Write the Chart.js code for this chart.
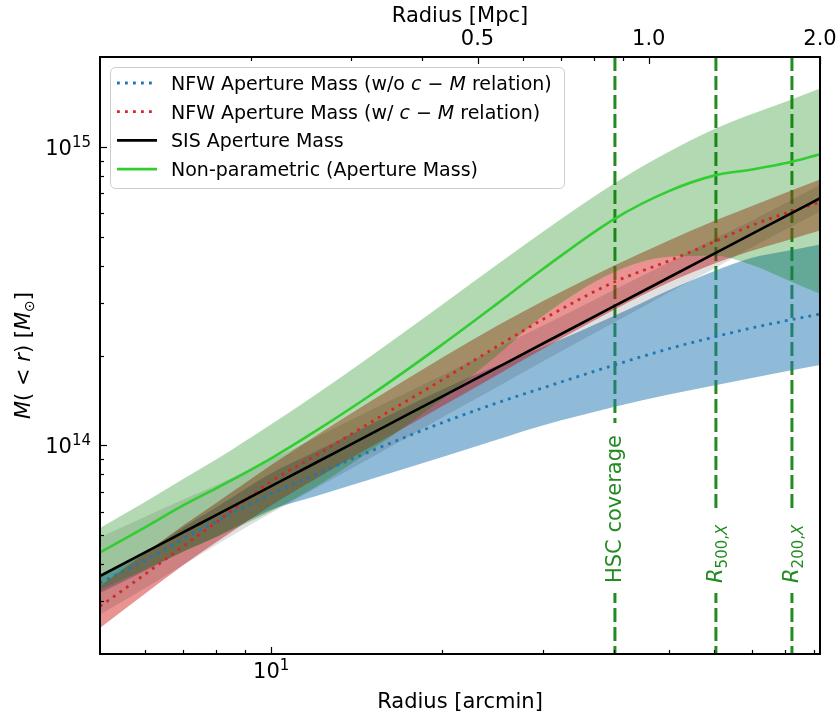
<!DOCTYPE html>
<html>
<head>
<meta charset="utf-8">
<script src="https://cdn.jsdelivr.net/npm/chart.js@4.4.1/dist/chart.umd.min.js"></script>
<style>
  html, body { margin: 0; padding: 0; background: #fff; }
  canvas { display: block; }
</style>
</head>
<body>
<canvas id="chart" width="840" height="717"></canvas>
<script>
// radius grid the curves were read at (arcmin)
const radiusArcmin = [5, 6, 7, 8, 10, 12, 15, 20, 25, 30, 40, 50, 60, 70, 80, 92.2];

// SIS aperture mass (black) and its band
const sisMass = [3.65e13, 4.38e13, 5.11e13, 5.84e13, 7.3e13, 8.76e13, 1.095e14, 1.46e14, 1.825e14, 2.19e14, 2.92e14, 3.65e14, 4.38e14, 5.11e14, 5.84e14, 6.73e14];
const sisUpper = [4.92e13, 5.77e13, 6.58e13, 7.35e13, 8.98e13, 1.065e14, 1.316e14, 1.716e14, 2.119e14, 2.514e14, 3.314e14, 4.095e14, 4.914e14, 5.667e14, 6.477e14, 7.464e14];
const sisLower = [2.71e13, 3.32e13, 3.97e13, 4.64e13, 5.93e13, 7.2e13, 9.11e13, 1.243e14, 1.572e14, 1.908e14, 2.573e14, 3.253e14, 3.904e14, 4.608e14, 5.266e14, 6.069e14];

// NFW without c-M relation (blue)
const nfwMass = [3.46e13, 4.12e13, 4.86e13, 5.56e13, 6.88e13, 8.01e13, 9.58e13, 1.192e14, 1.389e14, 1.557e14, 1.855e14, 2.107e14, 2.306e14, 2.474e14, 2.61e14, 2.754e14];
const nfwUpper = [3.64e13, 4.38e13, 5.31e13, 6.19e13, 8.06e13, 9.55e13, 1.18e14, 1.54e14, 1.85e14, 2.13e14, 2.71e14, 3.31e14, 3.83e14, 4.25e14, 4.47e14, 4.71e14];
const nfwLower = [3.2e13, 3.8e13, 4.41e13, 4.93e13, 6.08e13, 6.77e13, 7.72e13, 9.14e13, 1.047e14, 1.166e14, 1.345e14, 1.481e14, 1.587e14, 1.682e14, 1.768e14, 1.859e14];

// NFW with c-M relation (red)
const nfwCmMass = [2.89e13, 3.7e13, 4.59e13, 5.52e13, 7.57e13, 9.27e13, 1.198e14, 1.66e14, 2.15e14, 2.64e14, 3.52e14, 4.15e14, 4.8e14, 5.46e14, 5.98e14, 6.52e14];
const nfwCmUpper = [3.38e13, 4.35e13, 5.39e13, 6.41e13, 8.59e13, 1.08e14, 1.412e14, 1.971e14, 2.522e14, 3.042e14, 4.0e14, 4.86e14, 5.64e14, 6.34e14, 7.01e14, 7.77e14];
const nfwCmLower = [2.445e13, 3.184e13, 3.965e13, 4.734e13, 6.29e13, 7.75e13, 9.91e13, 1.354e14, 1.724e14, 2.102e14, 2.84e14, 3.51e14, 4.06e14, 4.49e14, 4.84e14, 5.25e14];

// non-parametric aperture mass (green)
const npMass = [4.38e13, 5.31e13, 6.29e13, 7.18e13, 9.05e13, 1.12e14, 1.48e14, 2.18e14, 2.99e14, 3.89e14, 5.72e14, 7.11e14, 8.01e14, 8.4e14, 8.81e14, 9.44e14];
const npUpper = [5.29e13, 6.46e13, 7.72e13, 8.97e13, 1.177e14, 1.484e14, 1.998e14, 2.963e14, 4.04e14, 5.19e14, 7.53e14, 9.63e14, 1.146e15, 1.289e15, 1.414e15, 1.57e15];
const npLower = [3.28e13, 3.84e13, 4.4e13, 4.93e13, 6.02e13, 7.28e13, 9.64e13, 1.429e14, 2.007e14, 2.705e14, 3.8e14, 4.28e14, 4.32e14, 4.02e14, 3.61e14, 3.22e14];

// vertical markers (arcmin)
const markerRadii = [40.2, 60.5, 82.3];

// axis ranges and ticks
const ARCMIN_PER_MPC = 46.1;
const X_MIN = 5, X_MAX = 92.2;
const Y_MIN = 2e13, Y_MAX = 2e15;
const arcminMajorTicks = [10];
const arcminMinorTicks = [6, 7, 8, 9, 20, 30, 40, 50, 60, 70, 80, 90];
const mpcMajorTicks = [0.5, 1.0, 2.0];
const mpcTickLabels = ["0.5", "1.0", "2.0"];
const mpcMinorTicks = [0.2, 0.3, 0.4, 0.6, 0.7, 0.8, 0.9];
const massMajorTicks = [1e14, 1e15];
const massMinorTicks = [3e13, 4e13, 5e13, 6e13, 7e13, 8e13, 9e13, 2e14, 3e14, 4e14, 5e14, 6e14, 7e14, 8e14, 9e14];

const C_BLUE = "rgb(31,119,180)";
const C_RED = "rgb(214,39,40)";
const C_LIME = "rgb(50,205,50)";
const C_MARK = "#228b22";
const FONT = "'DejaVu Sans', sans-serif";
const FS = 21;
const FS_LEG = 19;

const pts = (arr) => radiusArcmin.map((r, i) => ({ x: r, y: arr[i] }));

const lineDs = (label, arr, color, dash) => ({
  label,
  data: pts(arr),
  borderColor: color,
  borderWidth: dash ? 2.8 : 2.6,
  borderDash: dash || [],
  borderCapStyle: "butt",
  pointRadius: 0,
  fill: false,
  cubicInterpolationMode: "monotone",
});

const bandDs = (arr, color, fill) => ({
  data: pts(arr),
  borderWidth: 0,
  borderColor: "rgba(0,0,0,0)",
  backgroundColor: color,
  pointRadius: 0,
  fill: fill ? "+1" : false,
  cubicInterpolationMode: "monotone",
});

const font = (size, italic) => (italic ? "italic " : "") + size + "px " + FONT;

const runsWidth = (ctx, runs) =>
  runs.reduce((w, r) => {
    ctx.font = font(r.size || FS, r.italic);
    return w + ctx.measureText(r.text).width;
  }, 0);

const drawRuns = (ctx, runs, x, y, align) => {
  const w = runsWidth(ctx, runs);
  let cx = align === "center" ? x - w / 2 : align === "right" ? x - w : x;
  ctx.textAlign = "left";
  ctx.textBaseline = "alphabetic";
  runs.forEach((r) => {
    ctx.font = font(r.size || FS, r.italic);
    ctx.fillText(r.text, cx, y + (r.dy || 0));
    cx += ctx.measureText(r.text).width;
  });
  return w;
};

const pow10 = (exp) => [
  { text: "10" },
  { text: exp, size: 15, dy: -8 },
];

const markerLabels = [
  [{ text: "HSC coverage" }],
  [{ text: "R", italic: true }, { text: "500,", size: 15, dy: 5 }, { text: "X", size: 15, dy: 5, italic: true }],
  [{ text: "R", italic: true }, { text: "200,", size: 15, dy: 5 }, { text: "X", size: 15, dy: 5, italic: true }],
];

const legendItems = [
  { color: C_BLUE, dash: [2.8, 5.2], width: 2.8,
    runs: [{ text: "NFW Aperture Mass (w/o " }, { text: "c", italic: true }, { text: " \u2212 " }, { text: "M", italic: true }, { text: " relation)" }] },
  { color: C_RED, dash: [2.8, 5.2], width: 2.8,
    runs: [{ text: "NFW Aperture Mass (w/ " }, { text: "c", italic: true }, { text: " \u2212 " }, { text: "M", italic: true }, { text: " relation)" }] },
  { color: "#000", dash: [], width: 2.6, runs: [{ text: "SIS Aperture Mass" }] },
  { color: C_LIME, dash: [], width: 2.6, runs: [{ text: "Non-parametric (Aperture Mass)" }] },
];

const figurePlugin = {
  id: "figure",
  beforeDatasetsDraw(chart) {
    // marker lines sit underneath the shaded bands
    const { ctx, chartArea: a, scales: { x } } = chart;
    ctx.save();
    ctx.strokeStyle = C_MARK;
    ctx.lineWidth = 3;
    ctx.setLineDash([14, 5]);
    markerRadii.forEach((r) => {
      const px = x.getPixelForValue(r);
      ctx.beginPath();
      ctx.moveTo(px, a.top);
      ctx.lineTo(px, a.bottom);
      ctx.stroke();
    });
    ctx.restore();
  },
  afterDatasetsDraw(chart) {
    const { ctx, chartArea: a, scales: { x, x2, y } } = chart;
    ctx.save();

    // marker labels with white boxes
    markerRadii.forEach((r, i) => {
      const px = x.getPixelForValue(r);
      ctx.save();
      ctx.translate(px + 6, 583);
      ctx.rotate(-Math.PI / 2);
      const w = runsWidth(ctx, markerLabels[i]);
      ctx.fillStyle = "#fff";
      ctx.fillRect(-10, -21, w + 22, 30);
      ctx.fillStyle = C_MARK;
      drawRuns(ctx, markerLabels[i], 0, 0, "left");
      ctx.restore();
    });

    // frame
    ctx.strokeStyle = "#000";
    ctx.lineWidth = 2;
    ctx.strokeRect(a.left, a.top, a.right - a.left, a.bottom - a.top);

    // inward ticks
    ctx.lineWidth = 1.2;
    const vtick = (px, y0, len) => {
      ctx.beginPath();
      ctx.moveTo(Math.round(px) + 0.5, y0);
      ctx.lineTo(Math.round(px) + 0.5, y0 + len);
      ctx.stroke();
    };
    const htick = (py, len) => {
      ctx.beginPath();
      ctx.moveTo(a.left, Math.round(py) + 0.5);
      ctx.lineTo(a.left + len, Math.round(py) + 0.5);
      ctx.stroke();
    };
    arcminMajorTicks.forEach((v) => vtick(x.getPixelForValue(v), a.bottom, -7));
    arcminMinorTicks.forEach((v) => vtick(x.getPixelForValue(v), a.bottom, -4));
    mpcMajorTicks.forEach((v) => vtick(x2.getPixelForValue(v), a.top, 7));
    mpcMinorTicks.forEach((v) => vtick(x2.getPixelForValue(v), a.top, 4));
    massMajorTicks.forEach((v) => htick(y.getPixelForValue(v), 7));
    massMinorTicks.forEach((v) => htick(y.getPixelForValue(v), 4));

    // tick labels
    ctx.fillStyle = "#000";
    drawRuns(ctx, pow10("1"), x.getPixelForValue(10), 678, "center");
    massMajorTicks.forEach((v, i) => {
      drawRuns(ctx, pow10(i === 0 ? "14" : "15"), 91, y.getPixelForValue(v) + 8, "right");
    });
    mpcMajorTicks.forEach((v, i) => {
      drawRuns(ctx, [{ text: mpcTickLabels[i] }], x2.getPixelForValue(v), 45, "center");
    });

    // axis titles
    const cx = (a.left + a.right) / 2;
    drawRuns(ctx, [{ text: "Radius [arcmin]" }], cx, 708, "center");
    drawRuns(ctx, [{ text: "Radius [Mpc]" }], cx, 22, "center");
    ctx.save();
    ctx.translate(30, (a.top + a.bottom) / 2);
    ctx.rotate(-Math.PI / 2);
    drawRuns(ctx, [
      { text: "M", italic: true }, { text: "(" }, { text: " < " }, { text: "r", italic: true }, { text: ")" },
      { text: " [" }, { text: "M", italic: true }, { text: "\u2299", size: 14, dy: 4 }, { text: "]" },
    ], 0, 0, "center");
    ctx.restore();

    // legend
    ctx.beginPath();
    ctx.roundRect(110.5, 67.5, 454, 121, 5);
    ctx.fillStyle = "rgba(255,255,255,0.8)";
    ctx.fill();
    ctx.strokeStyle = "#cccccc";
    ctx.lineWidth = 1;
    ctx.stroke();
    legendItems.forEach((it, i) => {
      const ry = 83 + i * 28.7;
      ctx.strokeStyle = it.color;
      ctx.lineWidth = it.width;
      ctx.lineCap = "butt";
      ctx.setLineDash(it.dash);
      ctx.beginPath();
      ctx.moveTo(117, ry);
      ctx.lineTo(157, ry);
      ctx.stroke();
      ctx.setLineDash([]);
      ctx.fillStyle = "#000";
      drawRuns(ctx, it.runs.map((r) => ({ ...r, size: FS_LEG })), 171, ry + 7, "left");
    });

    ctx.restore();
  },
};

new Chart(document.getElementById("chart"), {
  type: "line",
  data: {
    datasets: [
      lineDs("Non-parametric (Aperture Mass)", npMass, C_LIME),
      lineDs("SIS Aperture Mass", sisMass, "#000"),
      lineDs("NFW Aperture Mass (w/ c-M relation)", nfwCmMass, C_RED, [2.8, 5.2]),
      lineDs("NFW Aperture Mass (w/o c-M relation)", nfwMass, C_BLUE, [2.8, 5.2]),
      bandDs(npUpper, "rgba(0,128,0,0.3)", true),
      bandDs(npLower, "rgba(0,0,0,0)", false),
      bandDs(sisUpper, "rgba(0,0,0,0.12)", true),
      bandDs(sisLower, "rgba(0,0,0,0)", false),
      bandDs(nfwCmUpper, "rgba(214,39,40,0.5)", true),
      bandDs(nfwCmLower, "rgba(0,0,0,0)", false),
      bandDs(nfwUpper, "rgba(31,119,180,0.5)", true),
      bandDs(nfwLower, "rgba(0,0,0,0)", false),
    ],
  },
  options: {
    responsive: false,
    animation: false,
    layout: { padding: { left: 100, top: 57, right: 20, bottom: 63 } },
    plugins: { legend: { display: false }, tooltip: { enabled: false } },
    scales: {
      x: { type: "logarithmic", min: X_MIN, max: X_MAX, display: false },
      x2: { type: "logarithmic", position: "top", axis: "x",
            min: X_MIN / ARCMIN_PER_MPC, max: X_MAX / ARCMIN_PER_MPC, display: false },
      y: { type: "logarithmic", min: Y_MIN, max: Y_MAX, display: false },
    },
  },
  plugins: [figurePlugin],
});
</script>
</body>
</html>
